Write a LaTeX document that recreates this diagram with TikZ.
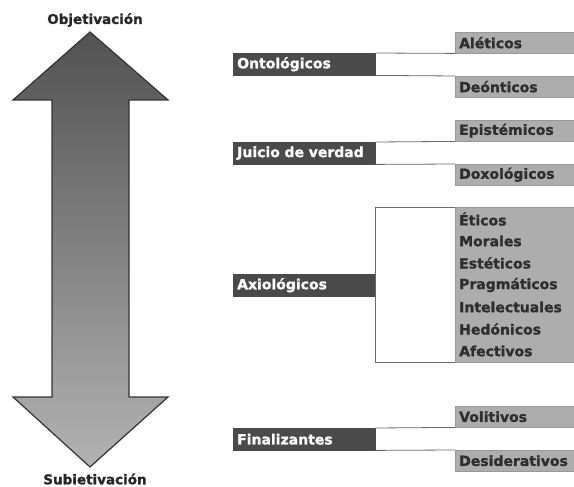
\documentclass[tikz,border=0pt]{standalone}
\usepackage{fontspec}
\setmainfont{DejaVu Sans}[BoldFont={DejaVu Sans Bold},BoldFeatures={FakeBold=1.2}]
\definecolor{darkbox}{HTML}{4A4A4A}
\definecolor{lightbox}{HTML}{ADADAD}
\definecolor{lightedge}{HTML}{999999}
\definecolor{txtdark}{HTML}{2E2E2E}
\definecolor{linegray}{HTML}{6A6A6A}
\begin{document}
\begin{tikzpicture}[x=1pt,y=-1pt,
  darkb/.style={fill=darkbox, draw=darkbox, text=white, font=\fontsize{14}{16}\selectfont\bfseries,
    anchor=north west, text width=134pt, inner xsep=4pt, inner ysep=0pt, minimum height=22pt, align=left},
  lightb/.style={fill=lightbox, draw=lightedge, line width=0.4pt, text=txtdark, font=\fontsize{14}{16}\selectfont\bfseries,
    anchor=north west, text width=115pt, inner xsep=4pt, inner ysep=0pt, minimum height=21pt, align=left},
  item/.style={text=txtdark, font=\fontsize{14}{16}\selectfont\bfseries, anchor=west, inner sep=0pt},
  conn/.style={draw=linegray, line width=0.8pt},
  pole/.style={text=black!85, font=\fontsize{13.5}{16}\selectfont\bfseries}
]
\useasboundingbox (0,0) rectangle (574,487);
% big arrow
\shadedraw[top color=black!68, bottom color=black!30, draw=black!80, line width=1.2pt, line join=miter]
  (90,32) -- (168,100) -- (129,100) -- (129,397) -- (168,397) -- (90,467)
  -- (13,397) -- (52,397) -- (52,100) -- (13,100) -- cycle;
\node[pole] (obj) at (95,20) {Objetivación};
\node[pole] (sub) at (95,479) {Subietivación};

% Ontológicos
\node[darkb] (ont) at (233,53) {Ontológicos};
\node[lightb] (ale) at (455,32) {Aléticos};
\node[lightb] (deo) at (455,76) {Deónticos};
\draw[conn] (ont.north east) -- (ale.south west);
\draw[conn] (ont.south east) -- (deo.north west);

% Juicio de verdad
\node[darkb] (jui) at (233,142) {Juicio de verdad};
\node[lightb] (epi) at (455,120) {Epistémicos};
\node[lightb] (dox) at (455,164) {Doxológicos};
\draw[conn] (jui.north east) -- (epi.south west);
\draw[conn] (jui.south east) -- (dox.north west);

% Axiológicos
\node[darkb] (axi) at (233,274) {Axiológicos};
\node[lightb, minimum height=155pt] (axbox) at (455,207) {};
\node[item] (eti) at (459,219) {Éticos};
\node[item] (mor) at (459,241) {Morales};
\node[item] (est) at (459,263) {Estéticos};
\node[item] (pra) at (459,285) {Pragmáticos};
\node[item] (int) at (459,307) {Intelectuales};
\node[item] (hed) at (459,329) {Hedónicos};
\node[item] (afe) at (459,351) {Afectivos};
\draw[conn] (axbox.north west) -| (axi.east) |- (axbox.south west);

% Finalizantes
\node[darkb] (fin) at (233,428) {Finalizantes};
\node[lightb] (vol) at (455,406) {Volitivos};
\node[lightb] (des) at (455,450) {Desiderativos};
\draw[conn] (fin.north east) -- (vol.south west);
\draw[conn] (fin.south east) -- (des.north west);
\end{tikzpicture}
\end{document}
